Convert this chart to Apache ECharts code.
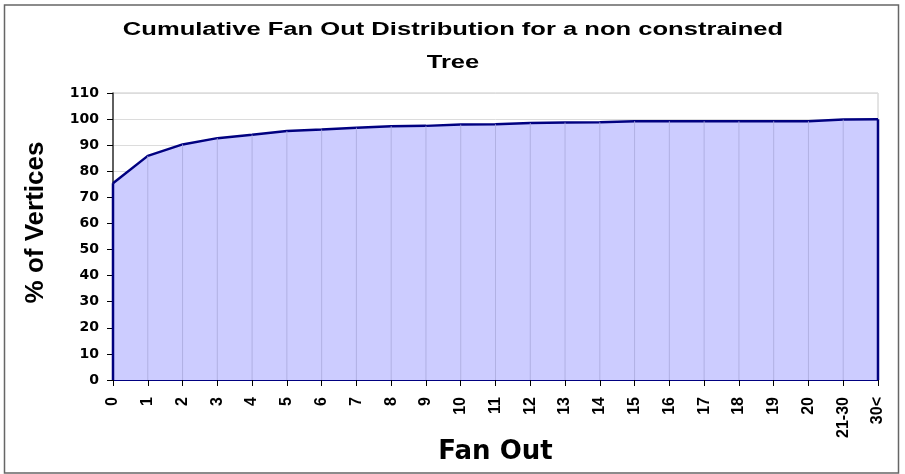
<!DOCTYPE html>
<html>
<head>
<meta charset="utf-8">
<script src="https://cdn.jsdelivr.net/npm/echarts@6/dist/echarts.min.js"></script>
<style>
html,body{margin:0;padding:0;background:#fff;overflow:hidden;}
#chart{width:905px;height:474px;}
</style>
</head>
<body>
<div id="chart"></div>
<script>
const categories = ['0','1','2','3','4','5','6','7','8','9','10','11','12','13','14','15','16','17','18','19','20','21-30','30<'];
const cumulative = [75.4, 85.9, 90.3, 92.7, 94.0, 95.4, 96.0, 96.7, 97.3, 97.4, 97.9, 98.0, 98.5, 98.7, 98.8, 99.2, 99.2, 99.2, 99.2, 99.2, 99.2, 99.8, 99.9];
const yMin = 0, yMax = 110, yStep = 10;
const titleLines = ['Cumulative Fan Out Distribution for a non constrained', 'Tree'];

const FONT = "'Liberation Sans', Arial, sans-serif";
const WIDE = "'DejaVu Sans', 'Liberation Sans', sans-serif";
const chart = echarts.init(document.getElementById('chart'));
const dropData = cumulative.map((v, i) => [i, v]);

chart.setOption({
  animation: false,
  backgroundColor: '#fff',
  graphic: [
    {
      type: 'rect', left: 2, top: 2.5, z: 100, silent: true,
      shape: { width: 894, height: 468 },
      style: { fill: 'none', stroke: '#666', lineWidth: 1.5 }
    },
    {
      type: 'text', x: 453, y: 30, scaleX: 1.42, z: 100,
      style: { text: titleLines[0], fontFamily: FONT, fontSize: 18, fontWeight: 'bold', fill: '#000', align: 'center', verticalAlign: 'middle' }
    },
    {
      type: 'text', x: 453, y: 63, scaleX: 1.42, z: 100,
      style: { text: titleLines[1], fontFamily: FONT, fontSize: 18, fontWeight: 'bold', fill: '#000', align: 'center', verticalAlign: 'middle' }
    }
  ],
  grid: {
    left: 113, right: 27, top: 93, bottom: 94,
    containLabel: false, outerBoundsMode: 'none',
    show: true, borderColor: '#c8c8c8', borderWidth: 1, backgroundColor: '#fff'
  },
  xAxis: {
    type: 'category',
    data: categories,
    boundaryGap: false,
    name: 'Fan Out',
    nameLocation: 'middle',
    nameGap: 59,
    nameMoveOverlap: false,
    nameTextStyle: { fontFamily: WIDE, fontSize: 26, fontWeight: 'bold', color: '#000' },
    axisLine: { lineStyle: { color: '#000080', width: 2 } },
    axisTick: { show: true, length: 6, lineStyle: { color: '#000', width: 1 } },
    axisLabel: { interval: 0, rotate: 90, margin: 17, fontFamily: FONT, fontSize: 16, fontWeight: 'bold', color: '#000' },
    splitLine: { show: false }
  },
  yAxis: {
    type: 'value',
    min: yMin, max: yMax, interval: yStep,
    name: '% of Vertices',
    nameLocation: 'middle',
    nameGap: 64,
    nameMoveOverlap: false,
    nameTextStyle: { fontFamily: FONT, fontSize: 26, fontWeight: 'bold', color: '#000', padding: [0, 0, 0, 28] },
    axisLine: { show: true, lineStyle: { color: '#333', width: 1.5 } },
    axisTick: { show: true, length: 6, lineStyle: { color: '#000', width: 1 } },
    axisLabel: { margin: 14, fontFamily: WIDE, fontSize: 14, fontWeight: 'bold', color: '#000' },
    splitLine: { show: true, lineStyle: { color: '#dcdcdc', width: 1 } }
  },
  series: [
    {
      type: 'line',
      data: cumulative,
      symbol: 'none',
      smooth: false,
      z: 2,
      lineStyle: { color: '#000080', width: 2.5 },
      areaStyle: { color: '#CCCCFF', opacity: 1 }
    },
    {
      type: 'custom',
      data: dropData,
      z: 3,
      silent: true,
      renderItem: function (params, api) {
        const i = api.value(0);
        const v = api.value(1);
        const p0 = api.coord([i, 0]);
        const p1 = api.coord([i, v]);
        const edge = i === 0 || i === categories.length - 1;
        return {
          type: 'line',
          shape: { x1: p0[0], y1: p0[1], x2: p1[0], y2: p1[1] },
          style: { stroke: edge ? '#000080' : '#aaaadc', lineWidth: edge ? 2.5 : 0.8 }
        };
      }
    }
  ]
});
</script>
</body>
</html>
